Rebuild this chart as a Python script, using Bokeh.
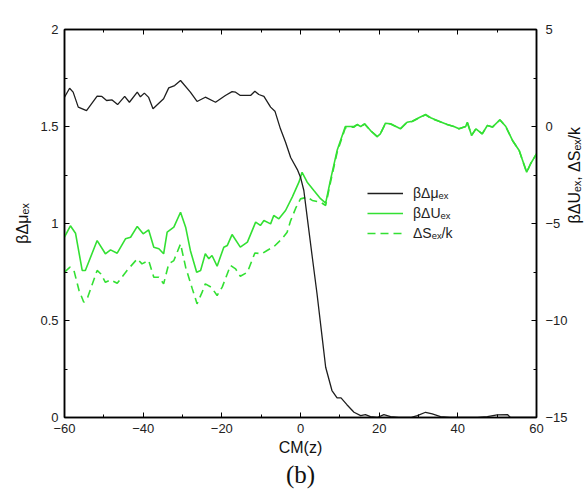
import math
from bokeh.plotting import figure
from bokeh.models import (Range1d, LinearAxis, FixedTicker, Legend, LegendItem, Title)
from bokeh.embed import file_html
from bokeh.resources import INLINE

# ---- data ----
z_mu = [-60, -58.7, -57.8, -56.5, -54.4, -51.7, -50.5, -49.3, -47.9, -46.5, -44.7, -43.5,
        -41.5, -40.7, -39.7, -38.6, -37.5, -34.8, -33.5, -32, -30.5, -28, -26.3, -24.2,
        -21.6, -19.1, -17.4, -16.5, -15.3, -12.7, -11.6, -10.6, -9.3, -7.6, -6.5, -5.1,
        -3.8, -2.5, -0.8, 0, 0.85, 1.7, 3.0, 4.2, 5.5, 6.4, 8.0, 9.3, 10.3, 11.8, 13.6,
        15.3, 16.5, 17.8, 19.5, 21.2, 22.9, 25, 28, 29.7, 31.8, 33.5, 35.6, 38, 45, 47.5,
        50, 52.6, 53.4, 60]
mu = [1.651, 1.697, 1.677, 1.600, 1.582, 1.656, 1.655, 1.634, 1.637, 1.613, 1.655, 1.625,
      1.677, 1.653, 1.672, 1.650, 1.591, 1.643, 1.699, 1.711, 1.737, 1.677, 1.629, 1.651,
      1.625, 1.660, 1.680, 1.677, 1.660, 1.660, 1.682, 1.665, 1.655, 1.600, 1.579, 1.488,
      1.419, 1.340, 1.278, 1.239, 1.170, 1.033, 0.826, 0.638, 0.414, 0.259, 0.139, 0.101,
      0.101, 0.066, 0.027, 0.010, 0.015, 0.005, 0.0, 0.015, 0.005, 0.0, 0.0, 0.010, 0.027,
      0.019, 0.005, 0.0, 0.0, 0.005, 0.014, 0.015, 0.0, 0.0]

z_u = [-60, -58.5, -57.2, -55.5, -54.7, -51.7, -49.6, -48.3, -46.6, -44.5, -43.2, -41.5,
       -40.0, -38.6, -37.3, -36.0, -34.8, -33.9, -32.2, -30.5, -29.2, -28.0, -26.4, -25.4,
       -24.2, -23.3, -22.5, -21.2, -19.5, -18.6, -17.4, -15.3, -13.5, -11.4, -10.2, -9.3,
       -7.6, -6.8, -5.5, -3.8, -2.1, -0.4, 0.4, 1.7, 3.4, 5.1, 6.4, 7.6, 9.3, 11.4, 13.6,
       14.4, 15.3, 16.3, 17.8, 19.5, 20.3, 21.6, 22.9, 25.4, 27.1, 28.4, 30.1, 31.8, 33.1,
       35.2, 37.3, 39.0, 40.3, 42.0, 42.4, 43.5, 44.6, 46.2, 47.5, 48.8, 50.7, 52.2, 53.9,
       55.6, 57.5, 58.5, 60]
du = [-5.70, -5.12, -5.50, -7.42, -7.42, -5.88, -6.56, -6.36, -6.53, -5.79, -5.71, -5.15,
      -5.53, -5.33, -6.22, -6.30, -6.56, -5.45, -5.19, -4.42, -5.19, -6.39, -7.51, -7.42,
      -6.56, -6.82, -6.65, -7.20, -6.22, -6.13, -5.57, -6.22, -5.96, -4.93, -5.10, -4.85,
      -5.02, -4.59, -4.76, -4.33, -3.64, -2.87, -2.36, -2.87, -3.30, -3.72, -3.95, -2.78,
      -1.24, 0.00, 0.00, 0.10, 0.00, 0.14, -0.21, -0.52, -0.38, 0.17, 0.14, -0.12, 0.22,
      0.27, 0.45, 0.62, 0.45, 0.27, 0.10, 0.00, -0.12, 0.00, 0.22, -0.46, -0.12, -0.38,
      0.05, -0.03, 0.35, 0.00, -0.72, -1.24, -2.36, -1.92, -1.41]

z_s = [-60, -58.6, -57.6, -56.3, -55.1, -54.1, -51.7, -50.8, -49.6, -48.3, -46.6, -44.1,
       -41.5, -40.3, -38.6, -37.3, -36.0, -34.8, -33.5, -32.2, -30.5, -29.2, -27.5, -26.3,
       -25.0, -24.2, -22.7, -21.2, -19.9, -17.8, -16.5, -15.3, -13.5, -11.6, -9.8, -8.5,
       -6.8, -4.7, -3.4, -2.5, -1.2, 0, 1.7, 3.0, 5.1, 6.4, 7.6, 9.3, 11.4, 13.6, 14.4,
       15.3, 16.3, 17.8, 19.5, 20.3, 21.6, 22.9, 25.4, 27.1, 28.4, 30.1, 31.8, 33.1, 35.2,
       37.3, 39.0, 40.3, 42.0, 42.4, 43.5, 44.6, 46.2, 47.5, 48.8, 50.7, 52.2, 53.9, 55.6,
       57.5, 58.5, 60]
ds = [-7.51, -7.25, -7.42, -8.45, -9.06, -8.80, -7.42, -7.59, -8.03, -7.91, -8.08, -7.42,
      -6.82, -7.08, -6.91, -7.77, -7.77, -8.11, -7.08, -6.91, -6.05, -7.25, -8.37, -9.14,
      -8.54, -8.11, -8.28, -8.71, -8.28, -7.16, -7.34, -7.72, -7.51, -6.52, -6.56, -6.39,
      -6.20, -5.79, -5.45, -4.85, -4.20, -3.73, -3.64, -3.81, -3.90, -4.07, -2.90, -1.34,
      -0.07, -0.03, 0.10, -0.01, 0.13, -0.21, -0.52, -0.38, 0.15, 0.13, -0.12, 0.22, 0.26,
      0.44, 0.60, 0.43, 0.27, 0.10, 0.00, -0.12, 0.00, 0.22, -0.46, -0.12, -0.38, 0.05,
      -0.03, 0.34, -0.01, -0.72, -1.24, -2.36, -1.92, -1.41]

x_ticks = [-60, -40, -20, 0, 20, 40, 60]
x_minor = [-50, -30, -10, 10, 30, 50]
x_labels = ["\u221260", "\u221240", "\u221220", "0", "20", "40", "60"]
yl_ticks = [0, 0.5, 1, 1.5, 2]
yl_labels = ["0", "0.5", "1", "1.5", "2"]
yl_minor = [0.25, 0.75, 1.25, 1.75]
yr_ticks = [-15, -10, -5, 0, 5]
yr_labels = ["\u221215", "\u221210", "\u22125", "0", "5"]
yr_minor = [-12.5, -7.5, -2.5, 2.5]

FONT = "Liberation Sans"
BLACK = "#1e1e1e"
GREEN = "#33e033"

p = figure(frame_width=472, frame_height=388, output_backend="svg", toolbar_location=None,
           x_range=Range1d(-60, 60), y_range=Range1d(0, 2),
           min_border_left=64, min_border_right=51, min_border_top=29, min_border_bottom=76,
           x_axis_location=None, y_axis_location=None)
p.extra_y_ranges = {"right": Range1d(-15, 5)}
p.grid.visible = False
p.outline_line_color = "black"
p.outline_line_width = 1.5
p.background_fill_color = "white"
p.border_fill_color = "white"

def style_axis(ax, ticks, minor, labels):
    ax.ticker = FixedTicker(ticks=ticks, minor_ticks=minor)
    if labels is not None:
        ax.major_label_overrides = {t: l for t, l in zip(ticks, labels)}
    ax.major_tick_in = 5
    ax.major_tick_out = 0
    ax.minor_tick_in = 3
    ax.minor_tick_out = 0
    ax.axis_line_color = "black"
    ax.axis_line_width = 1.5
    ax.major_tick_line_color = "black"
    ax.minor_tick_line_color = "black"
    ax.major_label_text_font = FONT
    ax.major_label_text_font_size = "13px"
    ax.major_label_text_color = "#222222"
    ax.axis_label_text_font = FONT
    ax.axis_label_text_font_size = "16px"
    ax.axis_label_text_font_style = "normal"
    ax.axis_label_text_color = "#111111"

xb = LinearAxis(axis_label="CM(z)")
style_axis(xb, x_ticks, x_minor, x_labels)
xb.major_label_standoff = 6
xb.axis_label_standoff = 3
p.add_layout(xb, "below")

# top frame ticks only (no labels)
xt = LinearAxis()
style_axis(xt, x_ticks, x_minor, None)
xt.major_label_text_color = None
xt.major_label_text_alpha = 0
xt.major_label_standoff = 0
p.add_layout(xt, "above")

yl = LinearAxis(axis_label="\u03b2\u0394\u03bc\u2091\u2093")
style_axis(yl, yl_ticks, yl_minor, yl_labels)
yl.major_label_standoff = 6
yl.axis_label_standoff = 6
p.add_layout(yl, "left")

yr = LinearAxis(y_range_name="right", axis_label="\u03b2\u0394U\u2091\u2093, \u0394S\u2091\u2093/k")
style_axis(yr, yr_ticks, yr_minor, yr_labels)
yr.major_label_standoff = 9
yr.axis_label_standoff = 4
yr.axis_label_orientation = math.pi / 2
p.add_layout(yr, "right")

r_s = p.line(z_s, ds, y_range_name="right", line_color=GREEN, line_width=1.6, line_dash="8 5")
r_u = p.line(z_u, du, y_range_name="right", line_color=GREEN, line_width=1.6)
r_mu = p.line(z_mu, mu, line_color=BLACK, line_width=1.3)

legend = Legend(items=[
    LegendItem(label="\u03b2\u0394\u03bc\u2091\u2093", renderers=[r_mu]),
    LegendItem(label="\u03b2\u0394U\u2091\u2093", renderers=[r_u]),
    LegendItem(label="\u0394S\u2091\u2093/k", renderers=[r_s]),
], location=(303, 174))
legend.background_fill_alpha = 0
legend.border_line_color = None
legend.padding = 0
legend.margin = 0
legend.spacing = 0
legend.glyph_width = 36
legend.glyph_height = 20
legend.label_height = 20
legend.label_standoff = 10
legend.label_text_font = FONT
legend.label_text_font_size = "14px"
legend.label_text_color = "#222222"
p.add_layout(legend, "center")

p.add_layout(Title(text="(b)", align="center", text_font="Liberation Serif",
                   text_font_size="25px", text_font_style="normal", text_color="#111111",
                   standoff=0, offset=0), "below")

open("out.html", "w").write(file_html(p, INLINE))
